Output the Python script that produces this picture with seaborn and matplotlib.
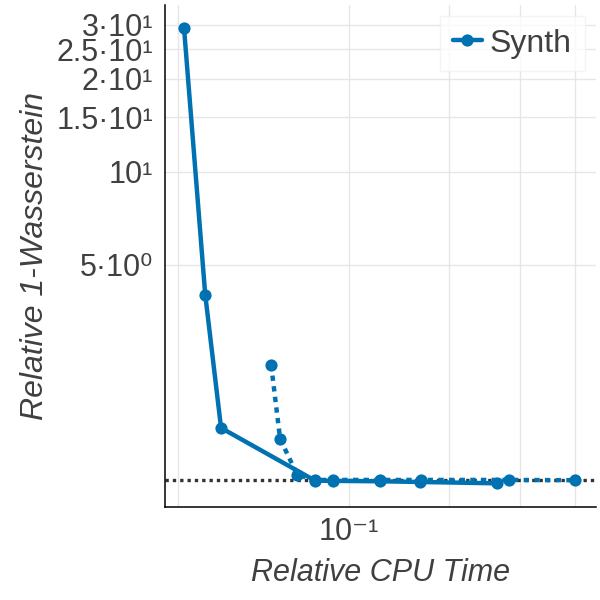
import numpy as np
import pandas as pd
import seaborn as sns
import matplotlib
matplotlib.use("Agg")
from matplotlib import pyplot as plt
from matplotlib import ticker

# values
solid_time = [0.0512, 0.0558, 0.0595, 0.0871, 0.0937, 0.1134, 0.1334, 0.1822]
solid_err = [29.3, 3.99, 1.475, 0.995, 0.993, 0.99, 0.985, 0.975]
dashed_time = [0.0729, 0.0756, 0.0810, 0.0871, 0.0937, 0.1134, 0.1339, 0.1913, 0.2500]
dashed_err = [2.36, 1.36, 1.04, 1.0, 1.0, 1.0, 1.0, 1.0, 0.998]

ytick_vals = [5, 10, 15, 20, 25, 30]
ytick_labels = ["5·10⁰", "10¹", "1.5·10¹", "2·10¹", "2.5·10¹", "3·10¹"]

series_name = "Synth"
blue = "#0072B2"
txt = "#404040"

sns.set_style("whitegrid")
plt.rcParams['font.family'] = ['Liberation Sans', 'DejaVu Sans']

solid_df = pd.DataFrame({"time": solid_time, "err": solid_err})
dashed_df = pd.DataFrame({"time": dashed_time, "err": dashed_err})

fig = plt.figure(figsize=(6, 6), dpi=100)
ax = fig.add_axes([0.275, 0.155, 0.718, 0.837])

ax.axhline(1.0, color="#333333", linestyle=(0, (1, 1.2)), linewidth=2.4, zorder=1)

sns.lineplot(data=dashed_df, x="time", y="err", ax=ax, sort=False,
             color=blue, linestyle=(0, (1.2, 1.2)), linewidth=3.2,
             marker="o", markersize=8.8, markeredgewidth=0, zorder=3)
sns.lineplot(data=solid_df, x="time", y="err", ax=ax, sort=False,
             color=blue, linewidth=3.2, label=series_name,
             marker="o", markersize=8.8, markeredgewidth=0, zorder=4)

ax.set_xscale("log")
ax.set_yscale("log")
ax.set_xlim(0.0474, 0.272)
ax.set_ylim(0.817, 34.8)

# y axis ticks
ax.yaxis.set_major_locator(ticker.FixedLocator(ytick_vals))
ax.yaxis.set_major_formatter(ticker.FixedFormatter(ytick_labels))
ax.yaxis.set_minor_locator(ticker.FixedLocator(np.arange(1.0, 35.01, 0.5)))
ax.yaxis.set_minor_formatter(ticker.NullFormatter())

# x axis ticks
ax.xaxis.set_major_locator(ticker.FixedLocator([0.1]))
ax.xaxis.set_major_formatter(ticker.FixedFormatter(["10⁻¹"]))
ax.xaxis.set_minor_locator(ticker.FixedLocator([0.05, 0.15, 0.2, 0.25]))
ax.xaxis.set_minor_formatter(ticker.NullFormatter())

ax.tick_params(axis="y", which="major", direction="inout", length=7, width=1,
               color="black", labelsize=22, labelcolor=txt, pad=5)
ax.tick_params(axis="y", which="minor", direction="inout", length=4, width=1,
               color="black")
ax.tick_params(axis="x", which="major", direction="inout", length=8, width=1,
               color="black", labelsize=22, labelcolor=txt, pad=3)
ax.tick_params(axis="x", which="minor", length=0)

ax.grid(True, which="major", color="#e6e6e6", linewidth=1)
ax.grid(True, which="minor", axis="x", color="#e6e6e6", linewidth=1)
ax.set_axisbelow(True)

for side in ["top", "right"]:
    ax.spines[side].set_visible(False)
for side in ["left", "bottom"]:
    ax.spines[side].set_color("black")
    ax.spines[side].set_linewidth(1.1)

ax.set_xlabel("Relative CPU Time", fontsize=22, style="italic", color=txt, labelpad=8)
ax.set_ylabel("Relative 1-Wasserstein", fontsize=23, style="italic", color=txt, labelpad=5)

leg = ax.legend(loc="upper right", fontsize=23, handlelength=0.9, handletextpad=0.25,
                frameon=True, fancybox=False, borderpad=0.4, borderaxespad=0,
                bbox_to_anchor=(0.974, 0.978))
leg.get_frame().set_edgecolor("#f2f2f2")
leg.get_frame().set_facecolor("white")
leg.get_frame().set_linewidth(1)
for t in leg.get_texts():
    t.set_color(txt)

fig.savefig("out.png", dpi=100)
